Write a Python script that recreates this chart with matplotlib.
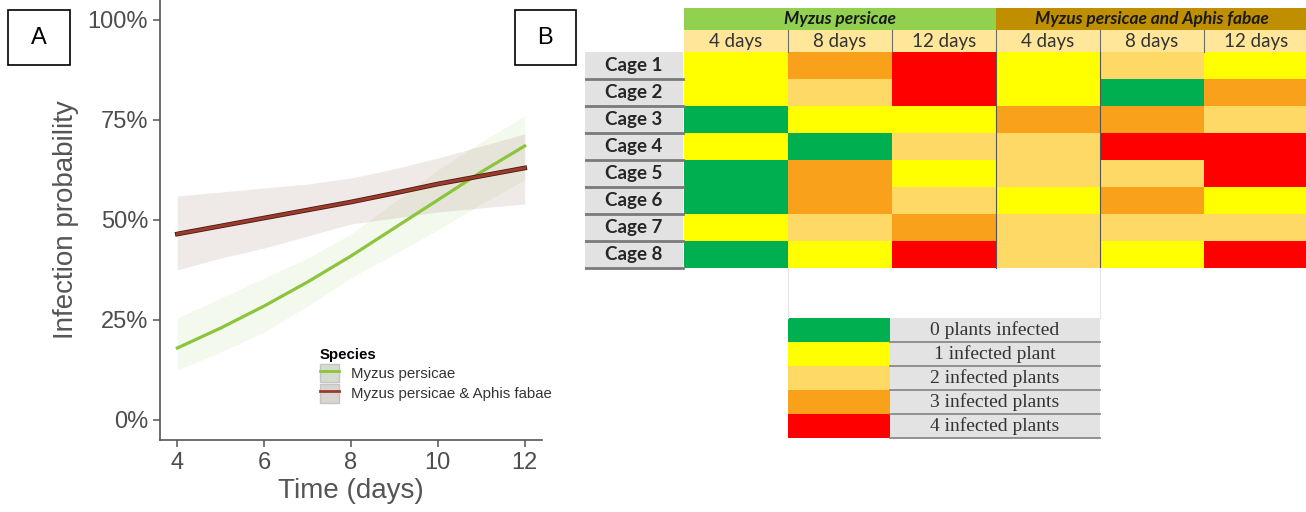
import numpy as np
import matplotlib.pyplot as plt
import matplotlib.patheffects as pe
from matplotlib.colors import ListedColormap
from matplotlib.patches import Patch, Rectangle
from matplotlib.lines import Line2D
from matplotlib.ticker import PercentFormatter

plt.rcParams["font.family"] = ["Liberation Sans", "DejaVu Sans"]

# ---- panel A: fitted infection probability ----
days = [4, 5, 6, 7, 8, 9, 10, 11, 12]
mp_fit = [0.18, 0.23, 0.285, 0.345, 0.41, 0.48, 0.55, 0.62, 0.685]
mp_low = [0.125, 0.17, 0.22, 0.285, 0.355, 0.415, 0.475, 0.54, 0.60]
mp_high = [0.255, 0.305, 0.355, 0.405, 0.465, 0.545, 0.625, 0.695, 0.76]
mpaf_fit = [0.465, 0.485, 0.505, 0.525, 0.545, 0.567, 0.59, 0.61, 0.63]
mpaf_low = [0.375, 0.405, 0.43, 0.46, 0.49, 0.505, 0.52, 0.53, 0.54]
mpaf_high = [0.56, 0.57, 0.58, 0.59, 0.605, 0.628, 0.655, 0.685, 0.715]
species = ["Myzus persicae", "Myzus persicae & Aphis fabae"]

# ---- panel B: number of infected plants per cage ----
cages = ["Cage 1", "Cage 2", "Cage 3", "Cage 4", "Cage 5", "Cage 6", "Cage 7", "Cage 8"]
groups = ["Myzus persicae", "Myzus persicae and Aphis fabae"]
time_cols = ["4 days", "8 days", "12 days", "4 days", "8 days", "12 days"]
infected = np.array([
    [1, 3, 4, 1, 2, 1],
    [1, 2, 4, 1, 0, 3],
    [0, 1, 1, 3, 3, 2],
    [1, 0, 2, 2, 4, 4],
    [0, 3, 1, 2, 2, 4],
    [0, 3, 2, 1, 3, 1],
    [1, 2, 3, 2, 2, 2],
    [0, 1, 4, 2, 1, 4],
])
legend_labels = ["0 plants infected", "1 infected plant", "2 infected plants",
                 "3 infected plants", "4 infected plants"]

green = "#8cc43c"
brown = "#9a3b2c"
cell_colors = ["#00b050", "#ffff00", "#ffd966", "#f9a11b", "#ff0000"]
cmap = ListedColormap(cell_colors)

W, H = 1306, 512
fig = plt.figure(figsize=(W / 100, H / 100), dpi=100)

# ================= A =================
ax = fig.add_axes([160 / W, 72 / H, 382 / W, 440 / H])
ax.fill_between(days, mp_low, mp_high, color=green, alpha=0.09, lw=0)
ax.fill_between(days, mpaf_low, mpaf_high, color="#8b5a50", alpha=0.13, lw=0)
ax.plot(days, mp_fit, color=green, lw=2.3)
ax.plot(days, mpaf_fit, color=brown, lw=2.2,
        path_effects=[pe.Stroke(linewidth=3.4, foreground="#4a1a12"), pe.Normal()])

ax.set_xlim(3.6, 12.4)
ax.set_ylim(-0.05, 1.05)
ax.set_xticks([4, 6, 8, 10, 12])
ax.set_yticks([0, 0.25, 0.5, 0.75, 1.0])
ax.yaxis.set_major_formatter(PercentFormatter(1.0, decimals=0))
for s in ["top", "right"]:
    ax.spines[s].set_visible(False)
for s in ["left", "bottom"]:
    ax.spines[s].set_color("#555555")
    ax.spines[s].set_linewidth(1.2)
ax.tick_params(colors="#555555", labelcolor="#4d4d4d", labelsize=17, length=5, width=1.1)
ax.set_ylabel("Infection probability", fontsize=20, color="#555555", labelpad=6)
ax.set_xlabel("Time (days)", fontsize=20, color="#555555", labelpad=3)

handles = [
    (Patch(facecolor="#d6dccd", edgecolor="#c4c4c4"), Line2D([], [], color=green, lw=2)),
    (Patch(facecolor="#d9d3d1", edgecolor="#c4c4c4"), Line2D([], [], color=brown, lw=2)),
]
ax.legend(handles, species, title="Species", loc="upper left",
          bbox_to_anchor=(312 / W, 1 - 340 / H), bbox_transform=fig.transFigure,
          frameon=False, fontsize=10.8, title_fontproperties={"weight": "bold", "size": 10.8},
          handlelength=1.3, handleheight=1.5, handletextpad=0.8, labelspacing=0.15,
          borderpad=0, alignment="left", labelcolor="#333333")

fig.add_artist(Rectangle((8 / W, 1 - 65 / H), 62 / W, 55 / H, transform=fig.transFigure,
                         fill=False, ec="black", lw=1.2))
fig.text(39 / W, 1 - 38 / H, "A", ha="center", va="center", fontsize=17)
fig.add_artist(Rectangle((515 / W, 1 - 65 / H), 61 / W, 55 / H, transform=fig.transFigure,
                         fill=False, ec="black", lw=1.2))
fig.text(545 / W, 1 - 38 / H, "B", ha="center", va="center", fontsize=17)

# ================= B =================
bx = fig.add_axes([585 / W, 72 / H, 721 / W, 432 / H])
bx.set_xlim(-0.952, 5.98)
bx.set_ylim(14.37, -1.63)
bx.axis("off")

ncol = len(time_cols)
nrow = len(cages)
bx.pcolormesh(np.arange(ncol + 1), np.arange(nrow + 1), infected,
              cmap=cmap, vmin=-0.5, vmax=4.5)

# header rows
head_colors = ["#92d050", "#bf8f00"]
for gi, g in enumerate(groups):
    bx.add_patch(Rectangle((gi * 3, -1.63), 3, 0.82, fc=head_colors[gi], ec="none"))
    bx.text(gi * 3 + 1.5, -1.22, g, ha="center", va="center", fontsize=12.5,
            fontweight="bold", fontstyle="italic", color="#1a1a1a", family=["Lato", "DejaVu Sans"])
bx.add_patch(Rectangle((0, -0.81), ncol, 0.81, fc="#ffe699", ec="none"))
for j, t in enumerate(time_cols):
    bx.text(j + 0.5, -0.4, t, ha="center", va="center", fontsize=13.5,
            color="#333333", family=["Lato", "DejaVu Sans"])
for j in range(1, ncol):
    bx.plot([j, j], [-0.81, 0], color="#6b6b6b", lw=0.8)
for j in [3, 4]:
    bx.plot([j, j], [0, nrow], color="#555555", lw=0.8)

# cage labels
for i, c in enumerate(cages):
    bx.add_patch(Rectangle((-0.952, i), 0.94, 1, fc="#e2e2e2", ec="none"))
    bx.plot([-0.952, -0.012], [i + 1, i + 1], color="#7a7a7a", lw=2)
    bx.text(-0.48, i + 0.5, c, ha="center", va="center", fontsize=13.5,
            fontweight="bold", color="#262626", family=["Lato", "DejaVu Sans"])

# colour key table
y0 = 9.85
step = 24 / 27
for x in [1, 4]:
    bx.plot([x, x], [nrow, y0], color="#e6e6e6", lw=0.8)
edges = y0 + step * np.arange(len(legend_labels) + 1)
bx.pcolormesh([1, 1.98], edges, np.arange(len(legend_labels)).reshape(-1, 1),
              cmap=cmap, vmin=-0.5, vmax=4.5)
for k, lab in enumerate(legend_labels):
    bx.add_patch(Rectangle((1.98, edges[k]), 2.02, step, fc="#e3e3e3", ec="none"))
    bx.plot([1.98, 4.0], [edges[k + 1], edges[k + 1]], color="#8a8a8a", lw=1.3)
    bx.text(2.99, edges[k] + step / 2, lab, ha="center", va="center", fontsize=14,
            color="#333333", family=["Liberation Serif", "DejaVu Serif"])

fig.savefig("out.png", dpi=100)
